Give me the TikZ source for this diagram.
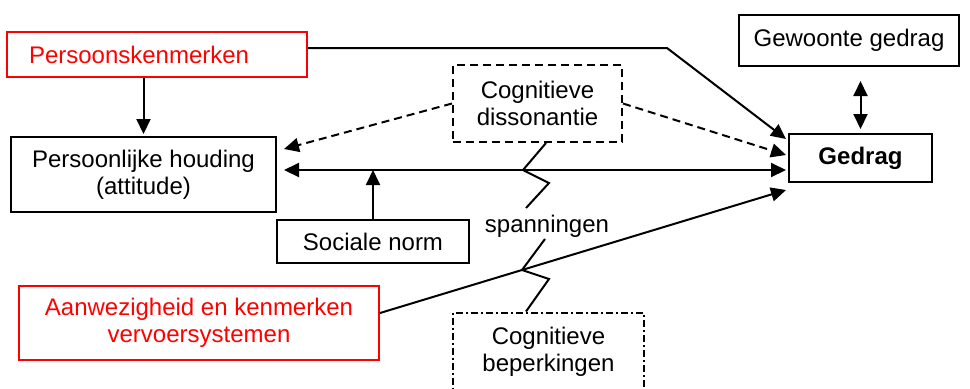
\documentclass[tikz,border=0pt]{standalone}
\usepackage{fontspec}
\setmainfont{Liberation Sans}
\usetikzlibrary{positioning,calc,arrows.meta}

\tikzset{
  box/.style={draw, line width=1pt, inner sep=0pt, align=center, font=\fontsize{12}{13.5}\selectfont},
  redbox/.style={box, draw=red, text=red},
  dashbox/.style={box, dash pattern=on 4pt off 2.5pt},
  dotbox/.style={box, dash pattern=on 3.5pt off 1.5pt on 1pt off 1.5pt},
  arr/.style={line width=1pt, -{Triangle[length=7.5pt,width=7pt]}},
  darr/.style={line width=1pt, {Triangle[length=7.5pt,width=7pt]}-{Triangle[length=7.5pt,width=7pt]}},
}

\begin{document}
\begin{tikzpicture}[x=0.5pt,y=-0.5pt]
\useasboundingbox (0,0) rectangle (970,388);

% the boxes
\node[redbox, minimum width=150pt, minimum height=22.5pt, text width=128pt, inner xsep=11pt, align=left] (pk) at (157,54.5) {Persoonskenmerken};
\node[box, minimum width=132.5pt, minimum height=37.5pt] (att) at (143.5,174.5) {Persoonlijke houding\\(attitude)};
\node[dashbox, minimum width=84.5pt, minimum height=38.5pt] (dis) at (537.5,103.5) {Cognitieve\\dissonantie};
\node[box, minimum width=110pt, minimum height=25.5pt] (gew) at (849,40.5) {Gewoonte gedrag};
\node[box, minimum width=71.5pt, minimum height=24pt, font=\fontsize{12}{13.5}\selectfont\bfseries] (ged) at (860.5,158) {Gedrag};
\node[box, minimum width=96pt, minimum height=21.5pt] (soc) at (373,241.5) {Sociale norm};
\node[redbox, minimum width=180pt, minimum height=37pt] (aan) at (199,323) {Aanwezigheid en kenmerken\\vervoersystemen};
\node[dotbox, minimum width=95.5pt, minimum height=39pt] (bep) at (548.5,351.5) {Cognitieve\\beperkingen};
\node[box, draw=none] (sp) at (547,226) {spanningen};

\coordinate (bend) at (667,48);
\coordinate (h) at (0,170);

% arrows to the attitude and to the behaviour
\draw[arr] (pk.east |- bend) -- (bend) -- ($(ged.north west)+(-2,6)$);
\draw[arr, shorten >=1pt] (att.north |- pk.south) -- (att.north);
\draw[arr, dash pattern=on 4pt off 2.5pt] (dis.west) -- ($(att.north east)+(7,13)$);
\draw[arr, dash pattern=on 4pt off 2.5pt] (dis.east) -- ($(ged.west)+(-2,-3)$);
\draw[darr, shorten <=3.5pt, shorten >=1pt] (att.east |- h) -- (ged.west |- h);
\draw[arr] (soc.north) -- (soc.north |- h);
\draw[darr, shorten <=7pt, shorten >=2pt] (ged.north |- gew.south) -- (ged.north);
\draw[arr] ($(aan.east)+(0,-10)$) -- ($(ged.south west)+(-2,7)$);

% zigzags
\draw[line width=1pt] ($(dis.south)+(8.5,0)$) -- (523,170) -- (549,183) -- (526,208);
\draw[line width=1pt] (545,239) -- (522,270) -- (549,279) -- ($(bep.north)+(-22.5,0)$);

\end{tikzpicture}
\end{document}
